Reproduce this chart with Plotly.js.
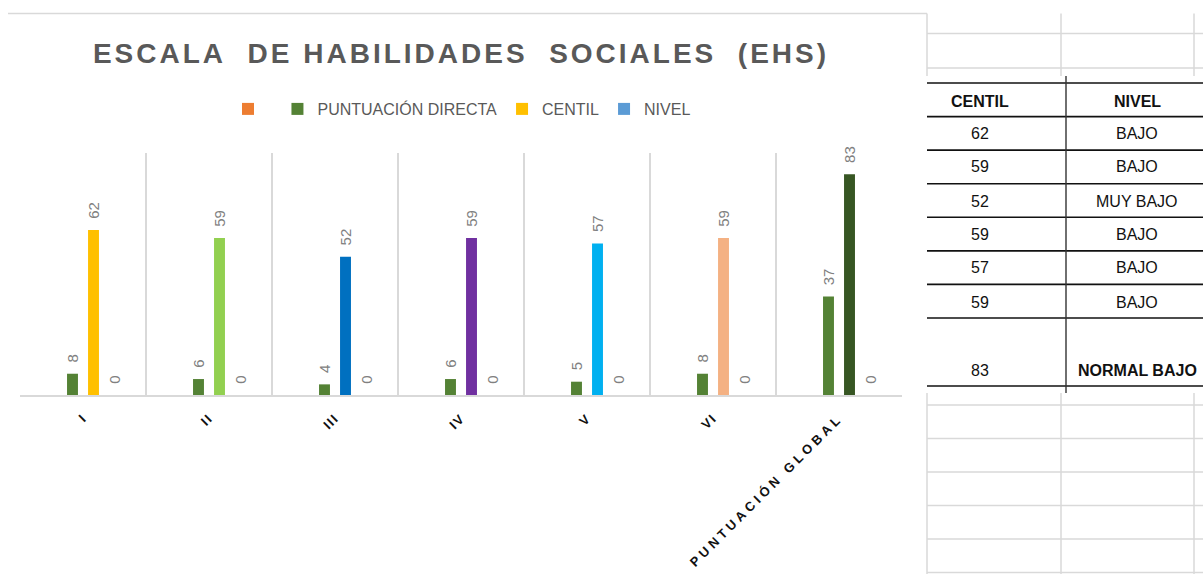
<!DOCTYPE html>
<html>
<head>
<meta charset="utf-8">
<script src="https://cdn.plot.ly/plotly-3.0.1.min.js"></script>
<style>html,body{margin:0;padding:0;background:#fff;}#chart{width:1203px;height:574px;}</style>
</head>
<body>
<div id="chart"></div>
<script>
// ---- data ----
const categories = ['I', 'II', 'III', 'IV', 'V', 'VI', 'PUNTUACIÓN GLOBAL'];
const blankSeries = [null, null, null, null, null, null, null];
const puntuacionDirecta = [8, 6, 4, 6, 5, 8, 37];
const centil = [62, 59, 52, 59, 57, 59, 83];
const nivel = [0, 0, 0, 0, 0, 0, 0];
const centilColors = ['#FFC000', '#92D050', '#0070C0', '#7030A0', '#00B0F0', '#F4B183', '#375623'];
const tableHeaders = ['CENTIL', 'NIVEL'];
const tableCentil = [62, 59, 52, 59, 57, 59, 83];
const tableNivel = ['BAJO', 'BAJO', 'MUY BAJO', 'BAJO', 'BAJO', 'BAJO', 'NORMAL BAJO'];

// ---- helpers (pixel -> paper) ----
const W = 1203, H = 574;
const px = x => x / W;
const py = y => 1 - y / H;

const labelFont = {family: 'Liberation Sans, Arial, sans-serif', size: 15, color: '#808080'};
const barText = {
  texttemplate: '\u00a0\u00a0%{y}',
  textposition: 'outside',
  textangle: -90,
  cliponaxis: false,
  constraintext: 'none',
  outsidetextfont: labelFont,
  hoverinfo: 'skip'
};

const traces = [
  {type: 'bar', name: ' ', x: categories, y: blankSeries, marker: {color: '#ED7D31'}, hoverinfo: 'skip'},
  Object.assign({type: 'bar', name: 'PUNTUACIÓN DIRECTA', x: categories, y: puntuacionDirecta,
    marker: {color: '#548235'}}, barText),
  Object.assign({type: 'bar', name: 'CENTIL', x: categories, y: centil,
    marker: {color: centilColors}}, barText),
  Object.assign({type: 'bar', name: 'NIVEL', x: categories, y: nivel,
    marker: {color: '#5B9BD5'}}, barText)
];

const tickText = categories.map(c =>
  '<span style="letter-spacing:' + (c.length > 5 ? '3.8px' : '1.5px') + '"><b>' + c + '</b></span>');

// ---- shapes: chart border + spreadsheet grid + table ----
const shapes = [];
const line = (x0, y0, x1, y1, color, width) => shapes.push({
  type: 'line', xref: 'paper', yref: 'paper',
  x0: px(x0), y0: py(y0), x1: px(x1), y1: py(y1),
  line: {color: color, width: width}
});
const gray = '#d9d9d9';
// chart top border
line(8, 13.5, 927, 13.5, gray, 1.5);
// spreadsheet gray grid (above / below the table)
[927, 1061, 1194].forEach(x => { line(x, 13.5, x, 76, gray, 1.5); line(x, 393, x, 574, gray, 1.5); });
[33.5, 68].forEach(y => line(927, y, 1203, y, gray, 1.5));
[405, 438.5, 472, 505.5, 539, 572.5].forEach(y => line(927, y, 1203, y, gray, 1.5));
// black table borders
const rowLines = [83, 116.6, 150.1, 183.7, 217.3, 250.9, 284.4, 318, 386];
rowLines.forEach(y => line(927, y, 1203, y, '#111', 1.6));
line(1066, 76, 1066, 393, '#333', 1.4);

// ---- annotations: table text ----
const annotations = [];
const colC = 980, colN = 1137;
const tFont = (bold) => ({family: 'Liberation Sans, Arial, sans-serif', size: 16, color: '#111', weight: bold ? 'bold' : 'normal'});
const note = (x, y, text, bold) => annotations.push({
  xref: 'paper', yref: 'paper', x: px(x), y: py(y), text: text, showarrow: false,
  xanchor: 'center', yanchor: 'middle', font: tFont(bold)
});
note(colC, 101, tableHeaders[0], true);
note(colN, 101, tableHeaders[1], true);
const rowCenters = [134, 167, 201, 234, 268, 302, 370];
tableCentil.forEach((v, i) => {
  note(colC, rowCenters[i], String(v), false);
  note(colN, rowCenters[i], tableNivel[i], i === tableNivel.length - 1);
});

const layout = {
  width: W, height: H,
  margin: {l: 0, r: 0, t: 0, b: 0},
  paper_bgcolor: '#ffffff', plot_bgcolor: 'rgba(0,0,0,0)',
  font: {family: 'Liberation Sans, Arial, sans-serif'},
  title: {
    text: '<span style="letter-spacing:3px">ESCALA\u00a0 DE HABILIDADES\u00a0 SOCIALES\u00a0 (EHS)</span>',
    font: {family: 'Liberation Sans, Arial, sans-serif', size: 28, color: '#595959', weight: 'bold'},
    x: px(461), xanchor: 'center', xref: 'paper',
    y: py(53), yanchor: 'middle', yref: 'paper'
  },
  showlegend: true,
  legend: {
    orientation: 'h', x: px(462), xanchor: 'center', y: py(109), yanchor: 'middle',
    font: {family: 'Liberation Sans, Arial, sans-serif', size: 16, color: '#595959'},
    itemwidth: 30, traceorder: 'normal', bgcolor: 'rgba(0,0,0,0)'
  },
  barmode: 'group',
  bargap: 0.333,
  bargroupgap: 0.48,
  xaxis: {
    type: 'category', domain: [px(20), px(902)], range: [-0.5, 6.5],
    tickvals: categories, ticktext: tickText,
    tickangle: -45, tickson: 'boundaries', ticks: '',
    ticklabelstandoff: 9,
    showgrid: true, gridcolor: gray, gridwidth: 1.3,
    showline: true, linecolor: gray, linewidth: 1.5,
    zeroline: false, fixedrange: true,
    tickfont: {family: 'Liberation Sans, Arial, sans-serif', size: 13, color: '#111'}
  },
  yaxis: {
    domain: [py(395), py(153)], range: [0, 91], visible: false, fixedrange: true
  },
  shapes: shapes,
  annotations: annotations
};

Plotly.newPlot('chart', traces, layout, {displayModeBar: false, staticPlot: true});
</script>
</body>
</html>
